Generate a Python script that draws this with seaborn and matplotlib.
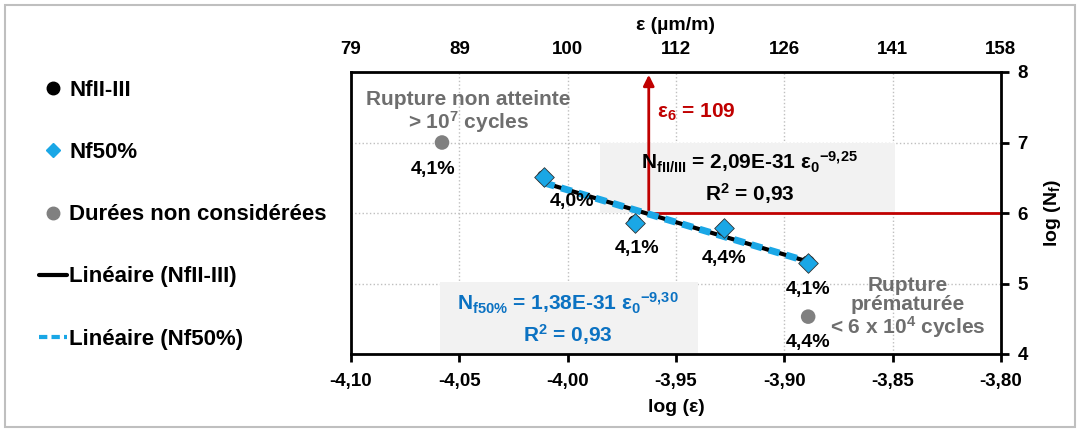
import numpy as np
import pandas as pd
import seaborn as sns
import matplotlib.pyplot as plt
from matplotlib import font_manager
from matplotlib.lines import Line2D
from matplotlib.patches import Rectangle

# data
log_eps_nf = [-4.011, -3.969, -3.928, -3.889]
log_n_nf = [6.51, 5.87, 5.77, 5.30]
log_eps_50 = [-4.011, -3.969, -3.928, -3.889]
log_n_50 = [6.51, 5.86, 5.79, 5.29]
log_eps_out = [-4.058, -3.889]
log_n_out = [7.00, 4.53]
pct_labels = ["4,0%", "4,1%", "4,4%", "4,1%"]
pct_out = ["4,1%", "4,4%"]
eps6 = 109
xticks = [-4.10, -4.05, -4.00, -3.95, -3.90, -3.85, -3.80]
yticks = [4, 5, 6, 7, 8]

sns.set_style("white")
names = {f.name for f in font_manager.fontManager.ttflist}
narrow = 'Liberation Sans Narrow' if 'Liberation Sans Narrow' in names else 'Liberation Sans'
plt.rcParams['font.family'] = ['Liberation Sans', 'DejaVu Sans']
plt.rcParams['font.weight'] = 'bold'
plt.rcParams['axes.labelweight'] = 'bold'
plt.rcParams['text.color'] = 'black'
plt.rcParams['axes.labelcolor'] = 'black'
plt.rcParams['xtick.color'] = 'black'
plt.rcParams['ytick.color'] = 'black'
plt.rcParams['mathtext.fontset'] = 'custom'
plt.rcParams['mathtext.rm'] = 'Liberation Sans:bold'
plt.rcParams['mathtext.bf'] = 'Liberation Sans:bold'
plt.rcParams['mathtext.it'] = 'Liberation Sans:bold'

CYAN = '#1AA7E6'
BLUE = '#0B72C2'
RED = '#C00000'
GRAY = '#808080'
TGRAY = '#6E6E6E'

fig = plt.figure(figsize=(10.8, 4.32), dpi=100)
ax = fig.add_axes([351/1080, 1-354/432, 650/1080, 282/432])

df_nf = pd.DataFrame({'x': log_eps_nf, 'y': log_n_nf})
df_50 = pd.DataFrame({'x': log_eps_50, 'y': log_n_50})
df_out = pd.DataFrame({'x': log_eps_out, 'y': log_n_out})

# trend lines (least squares in log-log)
p_nf = np.polyfit(df_nf.x, df_nf.y, 1)
p_50 = np.polyfit(df_50.x, df_50.y, 1)
xs = np.array([df_nf.x.min(), df_nf.x.max()])
sns.lineplot(x=xs, y=np.polyval(p_nf, xs), color='black', lw=3, ax=ax, zorder=3)
sns.lineplot(x=xs, y=np.polyval(p_50, xs), color=CYAN, lw=5, ax=ax, zorder=4,
             dashes=False, linestyle=(0, (1.6, 1.0)))

sns.scatterplot(data=df_out, x='x', y='y', color=GRAY, s=110, edgecolor='none', ax=ax, zorder=5)
sns.scatterplot(data=df_nf, x='x', y='y', color='black', s=100, edgecolor='none', ax=ax, zorder=5)
sns.scatterplot(data=df_50, x='x', y='y', color=CYAN, marker='D', s=100,
                edgecolor='#333333', linewidth=0.6, ax=ax, zorder=6)

ax.set_xlim(-4.10, -3.80)
ax.set_ylim(4, 8)
ax.set_xticks(xticks)
ax.set_xticklabels([f"{v:.2f}".replace('.', ',') for v in xticks], fontfamily=narrow,
                   fontsize=13.5, fontweight='bold')
ax.set_yticks(yticks)
ax.yaxis.tick_right()
ax.yaxis.set_label_position('right')
ax.set_yticklabels([str(v) for v in yticks], fontfamily=narrow, fontsize=13.5, fontweight='bold')
ax.tick_params(axis='x', direction='out', length=6, width=2, pad=8, bottom=True)
ax.tick_params(axis='y', direction='out', length=6, width=2, pad=6, right=True, left=False)
ax.grid(True, color='#BFBFBF', linestyle=':', lw=1)
for s in ax.spines.values():
    s.set_color('black')
    s.set_linewidth(2)
ax.set_xlabel('log (ε)', fontfamily=narrow, fontsize=14, fontweight='bold', labelpad=6)
ax.set_ylabel('log (N$_{f}$)', fontfamily=narrow, fontsize=14, fontweight='bold', labelpad=10)

top = ax.twiny()
top.set_xlim(ax.get_xlim())
top.set_xticks(xticks)
top.set_xticklabels([str(int(round(10**v*1e6))) for v in xticks], fontfamily=narrow,
                    fontsize=13.5, fontweight='bold')
top.tick_params(axis='x', length=0, pad=10)
top.set_xlabel('ε (µm/m)', fontfamily=narrow, fontsize=14, fontweight='bold', labelpad=8)
for s in top.spines.values():
    s.set_visible(False)

# epsilon 6 lines
x6 = np.log10(eps6 * 1e-6)
ax.plot([x6, -3.80], [6, 6], color=RED, lw=2, zorder=2)
ax.annotate('', xy=(x6, 8), xytext=(x6, 6),
            arrowprops=dict(arrowstyle='-|>', color=RED, lw=2, mutation_scale=16), zorder=2)
ax.text(x6 + 0.004, 7.43, 'ε$_{6}$ = 109', color=RED, fontsize=15, va='center', ha='left')

# equation boxes
ax.add_patch(Rectangle((-3.985, 6.0), 0.136, 0.99, facecolor='#F2F2F2', edgecolor='none', zorder=1))
ax.text(-3.916, 6.5, 'N$_{fII/III}$ = 2,09E-31 ε$_{0}{}^{-9{,}25}$\nR$^{2}$ = 0,93',
        ha='center', va='center', fontsize=15, color='black', linespacing=1.3, zorder=7)
ax.add_patch(Rectangle((-4.059, 4.0), 0.119, 1.02, facecolor='#F2F2F2', edgecolor='none', zorder=1))
ax.text(-4.0, 4.5, 'N$_{f50\\%}$ = 1,38E-31 ε$_{0}{}^{-9{,}30}$\nR$^{2}$ = 0,93',
        ha='center', va='center', fontsize=15, color=BLUE, linespacing=1.3, zorder=7)

# point labels
lab_pos = [(-3.998, 6.16), (-3.968, 5.50), (-3.928, 5.36), (-3.889, 4.91)]
for (lx, ly), t in zip(lab_pos, pct_labels):
    ax.text(lx, ly, t, ha='center', va='center', fontsize=14, zorder=7)
ax.text(-4.062, 6.61, pct_out[0], ha='center', va='center', fontsize=14, zorder=7)
ax.text(-3.889, 4.17, pct_out[1], ha='center', va='center', fontsize=14, zorder=7)

ax.text(-4.046, 7.43, 'Rupture non atteinte\n> 10$^{7}$ cycles', ha='center', va='center',
        fontsize=15, color=TGRAY, linespacing=1.0, zorder=7)
ax.text(-3.843, 4.65, 'Rupture\nprématurée\n< 6 x 10$^{4}$ cycles', ha='center', va='center',
        fontsize=15, color=TGRAY, linespacing=1.0, zorder=7)

# legend on the left
handles = [
    Line2D([], [], ls='none', marker='o', color='black', markersize=9),
    Line2D([], [], ls='none', marker='D', color=CYAN, markersize=7),
    Line2D([], [], ls='none', marker='o', color=GRAY, markersize=9),
    Line2D([], [], color='black', lw=3),
    Line2D([], [], color=CYAN, lw=3, linestyle=(0, (2, 1))),
]
labels = ['NfII-III', 'Nf50%', 'Durées non considérées', 'Linéaire (NfII-III)', 'Linéaire (Nf50%)']
fig.legend(handles, labels, loc='upper left', bbox_to_anchor=(28/1080, 1-69/432), frameon=False,
           fontsize=16, labelspacing=1.85, handlelength=1.25, handletextpad=0.1, borderpad=0)

fig.patches.append(Rectangle((5/1080, 5/432), 1-10/1080, 1-10/432, transform=fig.transFigure,
                             fill=False, edgecolor='#BFBFBF', lw=1.5))

plt.savefig('out.png', dpi=100)
